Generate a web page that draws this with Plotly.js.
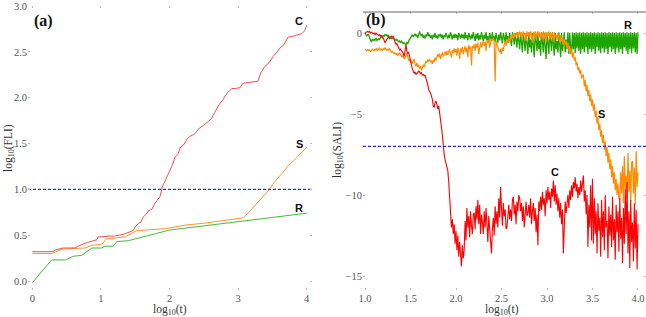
<!DOCTYPE html>
<html>
<head>
<meta charset="utf-8">
<script src="https://cdn.plot.ly/plotly-3.0.1.min.js"></script>
<style>html,body{margin:0;padding:0;background:#fff;}#chart{width:646px;height:317px;}</style>
</head>
<body>
<div id="chart"></div>
<script>
// ---------- Panel (a): log10(FLI) vs log10(t) ----------
const flaC_x = [0, 0.30, 0.34, 0.45, 0.62, 0.67, 0.77, 0.80, 0.94, 0.96, 1.13, 1.20, 1.33, 1.42, 1.47, 1.50, 1.55, 1.58, 1.62, 1.66, 1.70, 1.74, 1.78, 1.82, 1.86, 1.90, 1.93, 1.97, 2.00, 2.04, 2.08, 2.12, 2.16, 2.20, 2.26, 2.30, 2.36, 2.44, 2.50, 2.56, 2.61, 2.66, 2.72, 2.78, 2.84, 2.91, 2.96, 3.03, 3.06, 3.10, 3.20, 3.29, 3.33, 3.39, 3.45, 3.51, 3.57, 3.62, 3.66, 3.70, 3.73, 3.80, 3.85, 3.93, 3.97, 4.0];
const flaC_y = [0.32, 0.32, 0.34, 0.36, 0.36, 0.38, 0.41, 0.42, 0.45, 0.48, 0.49, 0.49, 0.51, 0.54, 0.55, 0.59, 0.63, 0.64, 0.70, 0.73, 0.77, 0.78, 0.84, 0.88, 0.92, 1.04, 1.08, 1.15, 1.20, 1.26, 1.35, 1.38, 1.46, 1.48, 1.55, 1.58, 1.60, 1.67, 1.70, 1.74, 1.77, 1.84, 1.92, 1.98, 2.05, 2.10, 2.10, 2.11, 2.15, 2.16, 2.17, 2.18, 2.27, 2.34, 2.38, 2.45, 2.50, 2.55, 2.57, 2.63, 2.66, 2.67, 2.68, 2.70, 2.73, 2.79];
const flaS_x = [0, 0.28, 0.45, 0.77, 0.87, 1.01, 1.08, 1.35, 1.45, 1.52, 1.93, 2.23, 2.50, 2.80, 3.03, 3.08, 3.13, 3.18, 3.22, 3.27, 3.31, 3.36, 3.40, 3.46, 3.52, 3.57, 3.62, 3.67, 3.72, 3.77, 3.82, 3.87, 3.92, 3.96, 4.0];
const flaS_y = [0.30, 0.30, 0.35, 0.36, 0.39, 0.40, 0.46, 0.48, 0.52, 0.55, 0.57, 0.61, 0.63, 0.66, 0.68, 0.69, 0.73, 0.77, 0.80, 0.84, 0.88, 0.92, 0.95, 1.00, 1.07, 1.11, 1.16, 1.20, 1.25, 1.28, 1.32, 1.36, 1.40, 1.44, 1.46];
const flaR_x = [0, 0.28, 0.48, 0.60, 0.72, 0.80, 0.87, 1.01, 1.06, 1.18, 1.23, 1.40, 2.00, 3.03, 4.0];
const flaR_y = [-0.02, 0.23, 0.23, 0.27, 0.28, 0.32, 0.36, 0.36, 0.38, 0.38, 0.43, 0.44, 0.556, 0.65, 0.74];
const fliThreshold = 1.0;

// ---------- Panel (b): log10(SALI) vs log10(t), sampled every 0.01 from 1.0 ----------
const saliStart = 1.0, saliStep = 0.01;
const saliR = [
 0, -0.1, -0.2, -0.1, -0.1, -0.3, -0.5, -0.55, -0.4, -0.45,
 -0.4, -0.45, -0.3, -0.45, -0.4, -0.35, -0.4, -0.3, -0.2, -0.25,
 -0.15, -0.2, -0.1, -0.15, -0.1, -0.2, -0.15, -0.3, -0.25, -0.35,
 -0.3, -0.3, -0.35, -0.4, -0.45, -0.4, -0.45, -0.55, -0.5, -0.6,
 -0.5, -0.55, -0.65, -0.6, -0.7, -0.75, -0.6, -0.65, -0.5, -0.4,
 -0.3, -0.2, -0.1, -0.25, -0.15, -0.05, -0.2, -0.1, -0.3, -0.1,
 0.1, -0.1, -0.2, -0.05, -0.3, -0.15, -0.35, -0.1, -0.2, 0.05,
 -0.2, -0.1, -0.3, -0.15, -0.4, -0.1, -0.25, 0, -0.3, -0.15,
 -0.35, -0.1, -0.2, -0.05, -0.3, -0.1, -0.4, -0.15, -0.25, 0,
 -0.2, -0.35, -0.1, -0.3, 0.05, -0.25, -0.4, -0.1, -0.3, -0.05,
 -0.3, -0.1, -0.45, 0, -0.2, -0.35, -0.05, -0.3, -0.1, -0.4,
 0.05, -0.3, -0.15, -0.45, 0, -0.25, -0.4, -0.1, -0.35, 0.05,
 -0.3, -0.5, -0.05, -0.35, 0, -0.45, -0.15, -0.4, 0.05, -0.3,
 -0.5, -0.1, -0.35, 0.05, -0.45, -0.2, -0.6, 0, -0.3, -0.5,
 0.05, -0.4, -0.2, -0.55, 0, -0.35, -0.6, -0.1, -0.45, 0.05,
 -0.4, -0.65, 0, -0.3, -0.55, 0.05, -0.45, -0.2, -0.6, 0,
 -0.5, -0.8, 0.05, -0.4, -0.7, 0, -0.55, -0.9, 0.05, -0.5,
 -1.0, 0, -0.6, -1.2, 0.05, -0.7, -1.1, 0, -0.8, -1.3,
 0.05, -0.9, -0.4, -1.2, 0, -0.8, -1.5, 0.05, -0.6, -1.1,
 0, -1.0, -0.5, -1.4, 0.05, -0.8, -1.2, 0, -0.9, -1.6,
 0.05, -0.7, -1.3, 0, -0.9, -1.1, 0.05, -0.6, -1.4, 0,
 -1.0, -0.5, -1.2, 0.05, -0.8, -1.5, 0, -1.1, -0.7, 0.05,
 -1.2, -0.4, -1.0, 0.05, -1.3, 0, -0.9, -1.2, 0.05, -1.0,
 0, -1.25, 0.05, -0.95, 0, -1.1, 0.05, -1.3, 0, -1.0,
 0.05, -1.2, 0, -0.9, 0.05, -1.3, 0, -1.0, 0.05, -1.15,
 0, -1.0, 0.05, -1.3, 0, -0.9, 0.05, -1.1, 0, -1.25,
 0.05, -0.95, 0, -1.2, 0.05, -1.0, 0, -1.3, 0.05, -0.9,
 0, -1.15, 0.05, -1.0, 0, -1.3, 0.05, -0.95, 0, -1.2,
 0.05, -1.0, 0, -1.3, 0.05, -0.9, 0, -1.1, 0.05, -1.3,
 0, -1.0, 0.05, -1.25, 0, -0.95, 0.05, -1.2, 0, -1.3,
 0.05
];
const saliS = [
 -1.0, -1.05, -1.1, -1.0, -1.1, -1.05, -1.15, -1.1, -1.0, -1.05,
 -1.1, -1.0, -1.05, -0.95, -1.1, -1.0, -0.9, -1.05, -1.0, -1.1,
 -0.95, -1.05, -0.9, -1.0, -1.1, -1.0, -1.05, -0.95, -1.15, -1.2,
 -1.1, -1.25, -1.3, -1.2, -1.35, -1.25, -1.4, -1.3, -1.2, -1.35,
 -1.45, -1.5, -1.3, -1.6, -1.55, -1.35, -1.25, -1.45, -1.7, -1.6,
 -1.85, -1.7, -1.9, -1.75, -1.6, -1.95, -2.05, -1.85, -2.1, -1.95,
 -2.2, -2.05, -2.3, -2.15, -1.95, -2.1, -1.9, -1.75, -1.85, -1.65,
 -1.75, -1.6, -1.8, -1.7, -1.9, -1.65, -1.8, -1.5, -1.7, -1.4,
 -1.3, -1.5, -1.25, -1.6, -1.35, -1.2, -1.45, -1.3, -1.15, -1.4,
 -1.1, -1.35, -1.2, -1.0, -1.3, -1.5, -1.05, -1.25, -0.95, -1.2,
 -1.0, -1.4, -0.9, -1.1, -1.6, -0.95, -1.2, -0.85, -1.3, -1.0,
 -0.8, -1.2, -0.9, -1.5, -0.75, -1.0, -0.85, -2.0, -0.8, -0.95,
 -0.7, -1.1, -0.65, -0.9, -0.6, -1.3, -0.7, -0.55, -0.9, -0.6,
 -0.5, -0.8, -0.55, -1.1, -0.45, -0.6, -0.4, -0.9, -0.5, -0.35,
 -0.45, -0.3, -0.6, -3.0, -0.5, -0.7, -0.9, -1.1, -1.2, -1.0,
 -1.3, -0.9, -1.1, -0.7, -0.5, -0.8, -0.4, -0.6, -0.3, -0.5,
 -0.2, -0.4, -0.1, -0.35, 0, -0.25, -0.1, 0.05, -0.3, 0,
 0.1, -0.2, 0.05, -0.4, 0.1, -0.15, 0, -0.5, 0.1, -0.2,
 0.05, -0.3, 0.1, -0.1, -0.6, 0.05, -0.2, 0.1, -0.4, 0,
 0.1, -0.25, 0.05, -0.5, 0, -0.15, 0.1, -0.35, 0.05, -0.6,
 0, -0.2, 0.1, -0.4, 0.05, -0.3, 0, -0.55, 0.05, -0.25,
 -0.1, -0.45, 0, -0.3, -0.6, -0.15, -0.5, -0.3, -0.75, -0.4,
 -0.7, -0.5, -0.95, -0.6, -1.1, -0.8, -1.3, -1.0, -1.5, -1.2,
 -1.7, -1.5, -2.0, -1.8, -2.3, -2.1, -2.5, -2.3, -2.8, -2.6,
 -2.6, -3.3, -2.9, -3.6, -3.2, -3.9, -3.5, -4.2, -3.8, -4.5,
 -4.1, -4.8, -4.4, -5.2, -4.8, -5.6, -5.2, -6.0, -5.6, -6.4,
 -6.0, -6.8, -6.3, -7.2, -6.7, -7.6, -7.0, -8.0, -7.4, -8.4,
 -7.8, -8.9, -8.2, -9.3, -8.6, -9.7, -9.0, -10.0, -9.3, -10.2,
 -10.3, -8.6, -9.9, -8.2, -10.5, -7.6, -9.6, -8.8, -10.2, -7.4,
 -9.8, -8.5, -10.4, -8.0, -7.9, -9.9, -8.3, -10.6, -7.3, -9.5,
 -8.6
];
const saliC = [
 0, 0.05, 0.1, 0.1, 0.05, 0.1, 0, 0.05, 0, -0.05,
 0, -0.1, 0, -0.05, -0.1, -0.15, -0.1, -0.2, -0.15, -0.3,
 -0.3, -0.45, -0.6, -0.5, -0.35, -0.3, -0.25, -0.35, -0.3, -0.2,
 -0.25, -0.2, -0.4, -0.55, -0.7, -0.65, -0.8, -0.95, -1.05, -1.0,
 -1.1, -1.2, -1.25, -1.45, -0.9, -0.75, -1.1, -1.25, -1.2, -1.5,
 -1.8, -2.0, -2.2, -2.35, -2.5, -2.4, -2.55, -2.5, -2.4, -2.35,
 -2.4, -2.5, -2.45, -2.6, -2.55, -2.65, -2.6, -2.8, -2.9, -3.2,
 -3.5, -3.6, -3.7, -3.9, -4.1, -4.5, -4.6, -4.3, -4.2, -4.4,
 -4.7, -4.5, -4.9, -5.1, -5.8, -6.3, -7.0, -7.5, -7.8, -8.0,
 -8.3, -8.5, -9.2, -10.2, -11.0, -12.0, -11.5, -12.4, -11.8, -13.0,
 -12.2, -13.4, -12.5, -13.8, -12.9, -14.0, -14.4, -13.1, -13.9, -13.4,
 -11.6, -12.8, -10.8, -12.0, -11.3, -12.6, -11.0, -11.9, -12.4, -11.2,
 -11.1, -12.1, -10.7, -11.5, -10.3, -11.8, -10.6, -12.4, -11.2, -11.7,
 -12.4, -11.0, -12.0, -10.8, -11.6, -12.9, -11.3, -12.2, -13.0, -13.6,
 -12.1, -11.4, -12.5, -10.7, -11.8, -11.0, -12.0, -10.2, -11.4, -9.5,
 -10.8, -11.9, -10.5, -11.3, -10.9, -12.1, -12.0, -11.2, -10.6, -11.5,
 -10.9, -11.6, -10.3, -10.1, -11.2, -10.6, -11.8, -10.4, -11.0, -10.0,
 -10.2, -11.0, -10.5, -11.6, -10.7, -12.0, -11.1, -10.4, -11.3, -11.1,
 -10.6, -11.4, -10.2, -11.8, -11.0, -10.5, -11.6, -10.8, -12.3, -11.2,
 -13.1, -10.4, -11.0, -10.1, -10.9, -9.8, -10.6, -10.2, -11.3, -9.7,
 -10.5, -9.5, -10.3, -9.8, -10.8, -9.6, -10.1, -9.1, -10.4, -9.4,
 -10.6, -9.9, -11.0, -10.2, -11.4, -10.5, -11.8, -10.9, -13.6, -11.2,
 -10.4, -11.1, -10.6, -10.0, -10.8, -9.7, -10.3, -9.4, -10.1, -9.2,
 -9.6, -8.9, -9.8, -9.3, -10.2, -9.5, -10.0, -9.1, -9.8, -9.4,
 -8.8, -10.4, -9.7, -11.2, -10.0, -13.2, -10.6, -12.0, -9.4, -12.8,
 -9.0, -13.0, -10.2, -12.4, -11.0, -13.6, -10.5, -12.2, -11.4, -13.8,
 -10.3, -12.6, -11.0, -13.4, -10.0, -12.0, -11.6, -13.9, -10.7, -12.5,
 -11.2, -13.2, -10.1, -12.8, -11.5, -14.0, -10.6, -12.3, -11.0, -13.5,
 -10.2, -12.7, -11.4, -14.2, -10.8, -13.0, -9.6, -12.4, -9.2, -13.6,
 -11.0, -14.5, -10.3, -12.9, -11.7, -14.1, -10.5, -13.3, -10.9, -14.6,
 -11.8
];
const saliThreshold = -7;

// tick labels
const aXTicks = [0, 1, 2, 3, 4];
const aYTicks = [0, 0.5, 1, 1.5, 2, 2.5, 3];
const aYText = ["0.0", "0.5", "1.0", "1.5", "2.0", "2.5", "3.0"];
const bXTicks = [1, 1.5, 2, 2.5, 3, 3.5, 4];
const bXText = ["1.0", "1.5", "2.0", "2.5", "3.0", "3.5", "4.0"];
const bYTicks = [0, -5, -10, -15];
const bYText = ["0", "\u22125", "\u221210", "\u221215"];

const colA = {C: 'rgb(255,75,75)', S: 'rgb(255,150,50)', R: 'rgb(70,185,60)'};
const colB = {C: 'rgb(255,0,0)', S: 'rgb(255,140,0)', R: 'rgb(30,165,0)'};
const blue = 'rgb(40,40,255)';

const traces = [
  {x: flaR_x, y: flaR_y, mode: 'lines', line: {color: colA.R, width: 1}, xaxis: 'x', yaxis: 'y'},
  {x: flaS_x, y: flaS_y, mode: 'lines', line: {color: colA.S, width: 1}, xaxis: 'x', yaxis: 'y'},
  {x: flaC_x, y: flaC_y, mode: 'lines', line: {color: colA.C, width: 1}, xaxis: 'x', yaxis: 'y'},
  {x: [-0.063, 4.077], y: [fliThreshold, fliThreshold], mode: 'lines', line: {color: blue, width: 1.3, dash: '3px,2px'}, xaxis: 'x', yaxis: 'y'},
  {y: saliR, x0: saliStart, dx: saliStep, mode: 'lines', line: {color: colB.R, width: 1.3}, xaxis: 'x2', yaxis: 'y2'},
  {y: saliS, x0: saliStart, dx: saliStep, mode: 'lines', line: {color: colB.S, width: 1.2}, xaxis: 'x2', yaxis: 'y2'},
  {y: saliC, x0: saliStart, dx: saliStep, mode: 'lines', line: {color: colB.C, width: 1.1}, xaxis: 'x2', yaxis: 'y2'},
  {x: [0.978, 4.088], y: [saliThreshold, saliThreshold], mode: 'lines', line: {color: blue, width: 1.3, dash: '3px,2px'}, xaxis: 'x2', yaxis: 'y2'}
];

const SERIF = 'Times New Roman, Liberation Serif, DejaVu Serif, serif';
const tickFont = {family: SERIF, size: 10.5, color: '#555'};
const axBase = {showgrid: false, zeroline: false, showline: false, ticks: 'inside', ticklen: 2, tickcolor: '#bbb', mirror: 'ticks', tickfont: tickFont, fixedrange: true};

const lab = (x, y, t, xr, yr) => ({x: x, y: y, xref: xr, yref: yr, text: '<b>' + t + '</b>', showarrow: false,
  xanchor: 'center', yanchor: 'middle',
  font: {family: 'Liberation Sans, Arial, sans-serif', size: 11, color: '#111'}});
const pap = (px, py, t, size, angle, bold) => ({x: px / 646, y: 1 - py / 317, xref: 'paper', yref: 'paper',
  text: bold ? '<b>' + t + '</b>' : t, showarrow: false, xanchor: 'center', yanchor: 'middle', textangle: angle || 0,
  font: {family: SERIF, size: size, color: bold ? '#111' : '#333'}});

const layout = {
  width: 646, height: 317,
  margin: {l: 0, r: 0, t: 0, b: 0},
  paper_bgcolor: '#fff', plot_bgcolor: 'rgba(0,0,0,0)',
  showlegend: false,
  font: {family: SERIF},
  xaxis: Object.assign({}, axBase, {domain: [28/646, 312/646], range: [-0.063, 4.077], tickvals: aXTicks, ticktext: aXTicks.map(String), anchor: 'y'}),
  yaxis: Object.assign({}, axBase, {domain: [27/317, 311/317], range: [-0.098, 3.0], tickvals: aYTicks, ticktext: aYText, anchor: 'x'}),
  xaxis2: Object.assign({}, axBase, {domain: [363/646, 1], range: [0.978, 4.088], tickvals: bXTicks, ticktext: bXText, anchor: 'y2'}),
  yaxis2: Object.assign({}, axBase, {domain: [27/317, 305/317], range: [-15.86, 1.296], tickvals: bYTicks, ticktext: bYText, anchor: 'x2'}),
  shapes: [
    {type: 'line', xref: 'x2 domain', yref: 'y2 domain', x0: 0, x1: 1, y0: 1, y1: 1, line: {color: '#666', width: 1}}
  ],
  annotations: [
    lab(3.89, 2.84, 'C', 'x', 'y'),
    lab(3.89, 1.50, 'S', 'x', 'y'),
    lab(3.89, 0.80, 'R', 'x', 'y'),
    lab(3.89, 0.5, 'R', 'x2', 'y2'),
    lab(3.60, -5.0, 'S', 'x2', 'y2'),
    lab(3.09, -8.56, 'C', 'x2', 'y2'),
    pap(43, 21, '(a)', 16, 0, true),
    pap(376, 20, '(b)', 16, 0, true),
    pap(170, 310, 'log<sub>10</sub>(t)', 11.5),
    pap(502, 310, 'log<sub>10</sub>(t)', 11.5),
    pap(9, 148, 'log<sub>10</sub>(FLI)', 11.5, -90),
    pap(338, 150, 'log<sub>10</sub>(SALI)', 11.5, -90)
  ]
};

Plotly.newPlot('chart', traces, layout, {displayModeBar: false, staticPlot: true});
</script>
</body>
</html>
